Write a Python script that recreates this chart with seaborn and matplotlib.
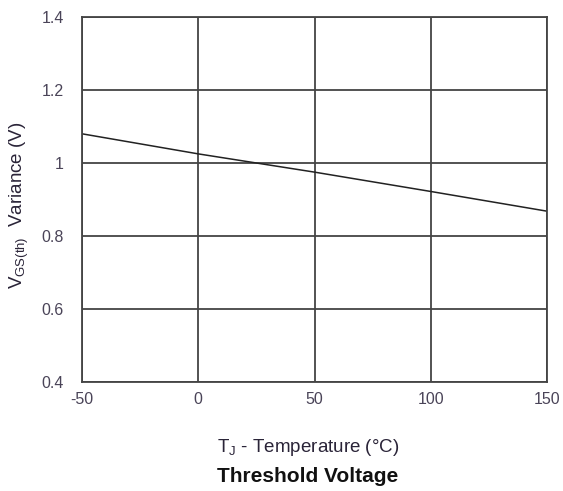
import matplotlib
matplotlib.use("Agg")
import matplotlib.pyplot as plt
import seaborn as sns
import pandas as pd

temperature_c = [-50, 0, 50, 100, 150]
vgs_variance = [1.08, 1.025, 0.975, 0.922, 0.868]
x_ticks = [-50, 0, 50, 100, 150]
y_ticks = [0.4, 0.6, 0.8, 1.0, 1.2, 1.4]
y_tick_labels = ["0.4", "0.6", "0.8", "1", "1.2", "1.4"]

sns.set_style("white")
plt.rcParams['font.family'] = ['Liberation Sans', 'DejaVu Sans']
plt.rcParams['mathtext.fontset'] = 'custom'
plt.rcParams['mathtext.rm'] = 'Liberation Sans'
plt.rcParams['axes.unicode_minus'] = False

df = pd.DataFrame({"T": temperature_c, "V": vgs_variance})

fig = plt.figure(figsize=(5.63, 4.91), dpi=100)
ax = fig.add_axes([82/563, 1-382/491, (547-82)/563, (382-17)/491])
sns.lineplot(data=df, x="T", y="V", ax=ax, color="#222222", linewidth=1.1)

ax.set_xlim(-50, 150)
ax.set_ylim(0.4, 1.4)
ax.set_xticks(x_ticks)
ax.set_xticklabels([str(v) for v in x_ticks])
ax.set_yticks(y_ticks)
ax.set_yticklabels(y_tick_labels)
ax.grid(True, color="#444444", linewidth=1.3)
ax.set_axisbelow(True)
for s in ax.spines.values():
    s.set_color("#444444")
    s.set_linewidth(1.3)
ax.tick_params(axis='both', length=0, labelsize=11.5, labelcolor="#4a4458")
ax.tick_params(axis='y', pad=13)
ax.tick_params(axis='x', pad=7)

ax.set_xlabel(r"T$_\mathregular{J}$ - Temperature (°C)", fontsize=13.5, color="#2a2438")
ax.xaxis.set_label_coords((308.5-82)/465, (382-437)/365)
ax.set_ylabel(r"V$_\mathregular{GS(th)}$  Variance (V)", fontsize=13.5, color="#2a2438")
ax.yaxis.set_label_coords((31-82)/465, (382-205)/365)
fig.text(308/563, 1-477/491, "Threshold Voltage", ha="center", va="center",
         fontsize=15, fontweight="bold", color="#111111")

fig.savefig("out.png", dpi=100)
